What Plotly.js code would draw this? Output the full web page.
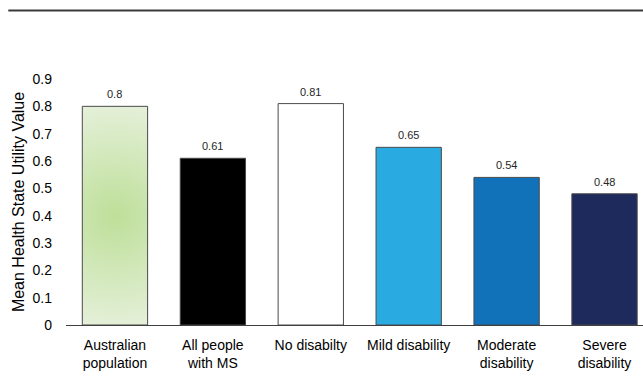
<!DOCTYPE html>
<html>
<head>
<meta charset="utf-8">
<script src="https://cdn.plot.ly/plotly-3.0.1.min.js"></script>
<style>
  html, body { margin: 0; padding: 0; background: #ffffff; }
  #chart { width: 643px; height: 378px; }
</style>
</head>
<body>
<div id="chart"></div>
<script>
// Mean health state utility by group
const categories = [
  'Australian<br>population',
  'All people<br>with MS',
  'No disabilty',
  'Mild disability',
  'Moderate<br>disability',
  'Severe<br>disability'
];
const utilityValues = [0.80, 0.61, 0.81, 0.65, 0.54, 0.48];
const barColors = ['#d6eac2', '#000000', '#ffffff', '#29abe2', '#1171b9', '#1e2a5b'];
const yTickValues = [0, 0.1, 0.2, 0.3, 0.4, 0.5, 0.6, 0.7, 0.8, 0.9];
const yTickLabels = ['0', '0.1', '0.2', '0.3', '0.4', '0.5', '0.6', '0.7', '0.8', '0.9'];

const FONT = 'Arial, "Liberation Sans", Helvetica, sans-serif';

const trace = {
  type: 'bar',
  x: categories,
  y: utilityValues,
  marker: {
    color: barColors,
    line: { color: '#4a4a4a', width: 1 }
  },
  hoverinfo: 'skip'
};

// value labels above each bar
const valueLabels = categories.map((c, i) => ({
  x: c,
  y: utilityValues[i],
  xref: 'x',
  yref: 'y',
  text: String(utilityValues[i]),
  showarrow: false,
  yanchor: 'bottom',
  yshift: 4,
  font: { family: FONT, size: 11, color: '#262626' }
}));

const layout = {
  width: 643,
  height: 378,
  margin: { l: 66, r: 0, t: 79, b: 53 },
  paper_bgcolor: '#ffffff',
  plot_bgcolor: '#ffffff',
  showlegend: false,
  bargap: 0.333,
  font: { family: FONT, color: '#000000' },
  xaxis: {
    type: 'category',
    range: [-0.5, 5.393],
    showgrid: false,
    zeroline: false,
    showline: true,
    linecolor: '#404040',
    linewidth: 1,
    ticks: '',
    ticklabelstandoff: 7,
    tickfont: { family: FONT, size: 14, color: '#000000' },
    fixedrange: true
  },
  yaxis: {
    range: [0, 0.9],
    tickvals: yTickValues,
    ticktext: yTickLabels,
    showgrid: false,
    zeroline: false,
    showline: false,
    ticks: '',
    ticklabelstandoff: 13,
    tickfont: { family: FONT, size: 14, color: '#000000' },
    title: {
      text: 'Mean Health State Utility Value',
      font: { family: FONT, size: 16, color: '#000000' },
      standoff: 3
    },
    fixedrange: true
  },
  annotations: valueLabels,
  shapes: [{
    type: 'line',
    xref: 'paper', yref: 'paper',
    x0: -0.1, x1: 1,
    y0: 1.2785, y1: 1.2785,
    line: { color: '#3a3a3a', width: 2 }
  }]
};

Plotly.newPlot('chart', [trace], layout, { displayModeBar: false, staticPlot: true }).then(gd => {
  // soft radial green fill for the population bar
  const firstBar = gd.querySelector('.barlayer .trace .point path');
  if (!firstBar) return;
  const box = firstBar.getBBox();
  const svg = gd.querySelector('svg.main-svg');
  const ns = 'http://www.w3.org/2000/svg';
  let defs = svg.querySelector('defs');
  if (!defs) { defs = document.createElementNS(ns, 'defs'); svg.insertBefore(defs, svg.firstChild); }
  const grad = document.createElementNS(ns, 'radialGradient');
  grad.setAttribute('id', 'popGreen');
  grad.setAttribute('gradientUnits', 'userSpaceOnUse');
  grad.setAttribute('cx', box.x + box.width / 2);
  grad.setAttribute('cy', box.y + box.height / 2);
  grad.setAttribute('r', box.height * 0.55);
  [['0%', '#bedf99'], ['100%', '#e7f1dd']].forEach(([o, c]) => {
    const s = document.createElementNS(ns, 'stop');
    s.setAttribute('offset', o);
    s.setAttribute('stop-color', c);
    grad.appendChild(s);
  });
  defs.appendChild(grad);
  firstBar.style.fill = 'url(#popGreen)';
});
</script>
</body>
</html>
